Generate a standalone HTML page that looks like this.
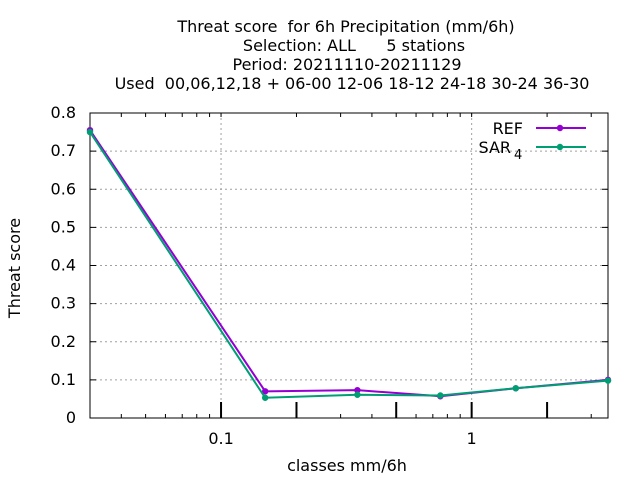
<!DOCTYPE html>
<html><head><meta charset="utf-8"><style>
body{margin:0;background:#fff;}
svg{font-family:"DejaVu Sans","Liberation Sans",sans-serif;}
</style></head><body>
<svg id="chart" width="640" height="480" viewBox="0 0 640 480">
<g font-size="16" text-anchor="middle" fill="#000">
<text x="346" y="32" xml:space="preserve">Threat score  for 6h Precipitation (mm/6h)</text>
<text x="354" y="51" xml:space="preserve">Selection: ALL      5 stations</text>
<text x="347" y="70">Period: 20211110-20211129</text>
<text x="352" y="89" xml:space="preserve">Used  00,06,12,18 + 06-00 12-06 18-12 24-18 30-24 36-30</text>
</g>
<g id="grid"></g>
<g id="axes"></g>
<g id="series"></g>
<text x="347" y="471" font-size="16" text-anchor="middle">classes mm/6h</text>
<text transform="translate(20,268) rotate(-90)" font-size="16" text-anchor="middle">Threat score</text>
<g font-size="16">
<g>
<text x="523" y="134" text-anchor="end">REF</text>
<line x1="536" y1="128" x2="586" y2="128" stroke="#9400d3" stroke-width="2"/>
<circle cx="560" cy="128" r="3.2" fill="#9400d3"/>
</g>
<g>
<text x="511" y="153" text-anchor="end">SAR</text>
<text x="514" y="159" font-size="13">4</text>
<line x1="536" y1="147" x2="586" y2="147" stroke="#009e73" stroke-width="2"/>
<circle cx="560" cy="147" r="3.2" fill="#009e73"/>
</g>
</g>
</svg>
<script>
const categories=[0.03,0.15,0.35,0.75,1.5,3.5];
const refValues=[0.755,0.070,0.073,0.057,0.078,0.100];
const sarValues=[0.750,0.053,0.061,0.059,0.078,0.098];
const yTicks=[0,0.1,0.2,0.3,0.4,0.5,0.6,0.7,0.8];
const yTickLabels=["0","0.1","0.2","0.3","0.4","0.5","0.6","0.7","0.8"];
const xTicks=[0.1,1];
const xTickLabels=["0.1","1"];
const X0=90,X1=608,Y0=418,Y1=113,xmin=0.03,xmax=3.5,ymin=0,ymax=0.8;
const NS="http://www.w3.org/2000/svg";
function xs(v){return X0+(Math.log10(v)-Math.log10(xmin))/(Math.log10(xmax)-Math.log10(xmin))*(X1-X0);}
function ys(v){return Y0-(v-ymin)/(ymax-ymin)*(Y0-Y1);}
function mk(tag,attrs,parent){const e=document.createElementNS(NS,tag);for(const k in attrs)e.setAttribute(k,attrs[k]);parent.appendChild(e);return e;}
const grid=document.getElementById('grid'),axes=document.getElementById('axes'),series=document.getElementById('series');
yTicks.forEach((t,i)=>{
 const y=ys(t);
 if(i>0&&i<yTicks.length-1){const g=mk('line',{x1:X0,x2:X1,y1:y,y2:y,stroke:'#a0a0a0','stroke-dasharray':'2,3','stroke-width':1},grid);
 
 }
 mk('line',{x1:X0,x2:X0+6,y1:y,y2:y,stroke:'#000'},axes);
 mk('line',{x1:X1-6,x2:X1,y1:y,y2:y,stroke:'#000'},axes);
 const tx=mk('text',{x:X0-14,y:y+5,'font-size':16,'text-anchor':'end'},axes);
 tx.textContent=yTickLabels[i];
 
 
});
xTicks.forEach((t,i)=>{
 const x=xs(t);
 const g=mk('line',{x1:x,x2:x,y1:Y1,y2:Y0,stroke:'#a0a0a0','stroke-dasharray':'2,3'},grid);
 
 
 const tx=mk('text',{x:x,y:Y0+26,'font-size':16,'text-anchor':'middle'},axes);
 tx.textContent=xTickLabels[i];
 
 
});
for(let d=-2;d<=0;d++){for(let m=1;m<=9;m++){const v=m*Math.pow(10,d);if(v<xmin||v>xmax)continue;const x=xs(v);
 const big=d>=-1&&(m==1||m==2||m==5);
 mk('line',{x1:x,x2:x,y1:Y0,y2:Y0-(big?16:4),stroke:'#000','stroke-width':big?2:1},axes);
 mk('line',{x1:x,x2:x,y1:Y1,y2:Y1+4,stroke:'#000'},axes);}}
mk('rect',{x:X0,y:Y1,width:X1-X0,height:Y0-Y1,fill:'none',stroke:'#000'},axes);
function draw(vals,color,name){
 const g=mk('g',{},series);
 
 
 const pts=categories.map((c,i)=>xs(c)+','+ys(vals[i])).join(' ');
 mk('polyline',{points:pts,fill:'none',stroke:color,'stroke-width':2},g);
 categories.forEach((c,i)=>{const p=mk('circle',{cx:xs(c),cy:ys(vals[i]),r:3.2,fill:color},g);
 
 });
}
draw(refValues,'#9400d3','ref-series');
draw(sarValues,'#009e73','sar4-series');
</script>
</body></html>
